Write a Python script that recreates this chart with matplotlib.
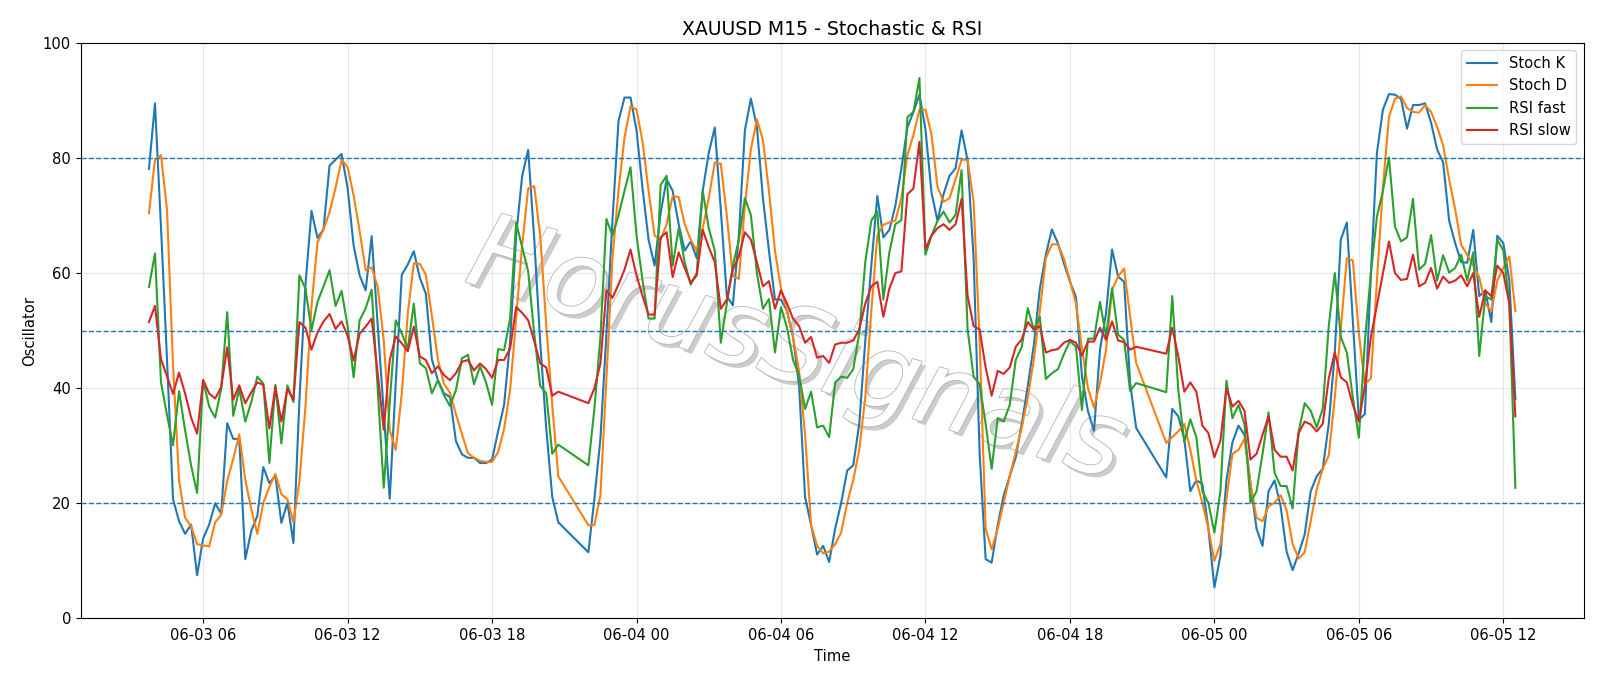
"""
plot.py - XAUUSD M15 stochastic & RSI oscillator panel.
"""

import matplotlib
matplotlib.use("Agg")
import matplotlib.dates as mdates
import matplotlib.patheffects as pe
import matplotlib.pyplot as plt
import pandas as pd

# ----------------------------------------------------------------------------
# Data (15-min bars, daily session break 21:00-21:45 has no bars)
# ----------------------------------------------------------------------------

START = "2025-06-03 03:45"
END = "2025-06-05 12:30"
BREAK_HOUR = 21

stoch_k = [
    78.1, 89.5, 68, 45, 20.7, 16.9, 14.7, 16.3, 7.5,
    # 06-03 06:00
    13.9, 16.3, 20.0, 18.2, 33.9, 31.2, 31.2, 10.3, 15.2, 17.8, 26.3, 23.5,
    24.8, 16.6, 20.1, 13.1, 38, 58, 70.8, 66.1, 67.6, 78.7, 79.7, 80.7,
    # 06-03 12:00
    74.8, 64.8, 59.6, 57, 66.4, 51, 36, 20.8, 41, 59.7, 61.5, 63.8,
    59.2, 56.4, 45, 41.4, 39.1, 38.5, 30.8, 28.5, 27.9, 27.9, 27, 27,
    # 06-03 18:00
    27.6, 32.5, 37.1, 48.2, 66.5, 76.9, 81.4, 66, 48, 33, 21.1, 16.7,
    11.5, 20.8, 31.2, 49.5, 69.1, 86.4, 90.5, 90.5,
    # 06-04 00:00
    84.8, 74.7, 65.8, 61.3, 70.4, 76.3, 74.3, 68.5, 63.9, 65.5, 62.6, 74.3,
    80.9, 85.3, 71, 56, 54.4, 66.5, 84.8, 90.3, 85.4, 73, 63.9, 55.4,
    # 06-04 06:00
    55.4, 53.4, 48.9, 40.4, 21.1, 16.2, 11.1, 12.6, 9.8, 15.6, 20.1, 25.7,
    26.6, 33.8, 48.2, 61.3, 73.4, 66.2, 67.5, 71.7, 78.2, 85.3, 88, 91,
    # 06-04 12:00
    85, 74, 69.1, 73.7, 76.9, 78.2, 84.8, 79.6, 62.6, 28.6, 10.3, 9.7,
    16.2, 21.4, 24.7, 28, 33.8, 40.4, 47.5, 57.3, 63.2, 67.6, 65.2, 61.7,
    # 06-04 18:00
    58.5, 55.9, 42, 36, 32.6, 46.7, 53, 64.1, 59.4, 58.5, 40.9, 33.1,
    24.5, 36.4, 35.1, 31.2, 22.1, 24, 23.4, 15.6,
    # 06-05 00:00
    5.4, 10.9, 24, 30.6, 33.5, 31.9, 23.4, 15.6, 12.6, 22.1, 24, 19.5,
    11.6, 8.4, 11.3, 14.6, 22.1, 24.7, 26, 33.8, 46.2, 65.8, 68.8, 51.5,
    # 06-05 06:00
    34.5, 35.5, 60, 80.9, 88.4, 91.1, 91, 90.3, 85.1, 89.2, 89.2, 89.5,
    86.1, 81.5, 79.2, 69.1, 65.2, 61.9, 61.8, 67.5, 56, 57, 51.5, 66.5,
    # 06-05 12:00
    65.2, 58.7, 38.1,
]

stoch_d = [
    70.4, 79.7, 80.5, 71, 44, 24, 17.5, 16, 12.9,
    12.7, 12.5, 16.7, 18, 23.9, 27.7, 32, 24.1, 19, 14.7, 20.1, 22.8,
    25.1, 21.6, 20.7, 16.7, 23.9, 36.8, 54.3, 65.3, 67.6, 70.6, 74.8, 79.7,
    78.4, 73.5, 67.3, 60.5, 61, 57.6, 48.4, 32.7, 29.3, 39.1, 53, 61.7,
    61.6, 59.7, 52.6, 45, 40.8, 39.2, 35.5, 32, 28.7, 27.9, 27.4, 27.2,
    27.2, 28.9, 32.9, 39.7, 52.1, 64.9, 74.7, 75.1, 66.5, 51, 37, 24.7,
    16.2, 16.2, 21.4, 41.7, 62.6, 74.3, 83.5, 89,
    88.4, 82.8, 74.3, 66.5, 65.8, 68.5, 73.4, 73.2, 68.5, 65.8, 63.9, 67.8,
    73, 79.2, 79, 70, 59.5, 59, 71.7, 81.5, 86.7, 83.1, 74.3, 63.9,
    57.3, 53.4, 48.9, 43, 31.9, 16.2, 12.6, 11.3, 11.6, 12.9, 14.9, 20.1,
    24, 29.3, 38.4, 53.4, 66.5, 68.4, 68.8, 69.1, 73, 80.5, 84, 88.4,
    88.4, 84.1, 75, 72.4, 73, 76.3, 79.7, 79.7, 72.4, 48.2, 15.6, 12,
    15.6, 20.1, 24.7, 28.9, 33.2, 38.4, 44.9, 53.4, 62.6, 65, 65, 62.5,
    58.7, 54.7, 46.9, 40, 36.6, 40.9, 46.7, 57.1, 59.4, 60.8, 52.5, 44.4,
    30.5, 31.5, 32.5, 33.8, 29.3, 24, 20.1, 15.6,
    10, 12.9, 20.8, 28.6, 29.3, 31.2, 23.4, 17.5, 16.9, 19.5, 20.1, 21.4,
    18.8, 12.9, 10.4, 11.5, 16.9, 22.4, 26, 28.3, 38.4, 50.2, 62.6, 62.2,
    49.5, 40.7, 41.7, 58.7, 75, 87.1, 90.3, 90.7, 88.7, 88, 87.9, 89.2,
    88, 85.4, 82.2, 76.3, 71.1, 64.9, 63.2, 61.3, 59.3, 54.7, 53.4, 58.7,
    60.9, 62.9, 53.4,
]

rsi_fast = [
    57.6, 63.4, 41, 35.3, 30.1, 39.5, 32.7, 26.6, 21.8,
    41.4, 36.8, 34.9, 39.9, 53.2, 35.2, 39.9, 34.2, 37.6, 42, 40.8, 27,
    40.6, 30.4, 40.5, 37.6, 59.6, 57.3, 50.1, 55, 57.7, 60.5, 54.3, 56.9,
    50.8, 41.9, 51.8, 53.9, 57.1, 40, 22.7, 37.5, 51.8, 49.5, 46.9, 54.7,
    44.3, 43.5, 39.1, 41.4, 38.8, 36.9, 39.7, 45.2, 45.8, 40.7, 43.8, 41,
    37.1, 46.8, 46.6, 52.1, 68.8, 64.5, 60.3, 49.5, 40.4, 39.1, 28.6, 30.2,
    26.6, 36.4, 48.9, 69.4, 66.5, 70, 74.3, 78.4,
    66.5, 58.7, 52.1, 52.1, 75.3, 76.9, 61.3, 67.8, 61.9, 58, 60, 74.3,
    67.8, 63.9, 47.9, 54.7, 61.3, 65.8, 73, 70.1, 60, 53.8, 55.5, 46.2,
    54.1, 50.5, 44.9, 42.3, 36.4, 39.4, 33.2, 33.5, 31.5, 41, 42, 41.8,
    43.3, 49.5, 61.9, 69.1, 70.7, 55.4, 63.6, 68.5, 69.2, 87.1, 88, 93.9,
    63.2, 66.5, 69.1, 70.7, 68.8, 70.1, 77.9, 50.2, 42, 40.7, 33.8, 26,
    34.8, 34.2, 37.1, 44.9, 47.2, 53.9, 50.2, 52.4, 41.6, 42.6, 43.3, 45.9,
    48.2, 47.2, 36.2, 48.6, 48.6, 55, 49, 57.4, 49.3, 48.4, 39.5, 40.9,
    39.3, 56, 39.7, 30.6, 34.6, 31.5, 22.1, 20.1,
    14.9, 22.1, 41.3, 34.8, 37.1, 33.8, 20.1, 22.1, 28.6, 35.8, 25.3, 23,
    23, 19.1, 32.5, 37.4, 36.1, 33.2, 36.4, 50.8, 60, 48.9, 46.2, 38.4,
    31.4, 48.2, 60, 69.8, 74.3, 80.1, 68.1, 65.5, 66.2, 72.9, 60.6, 61.6,
    66.6, 58.7, 63.1, 60.1, 60.9, 63.2, 58.7, 63.6, 45.6, 56, 55.4, 65.8,
    63.9, 54.7, 22.7,
]

rsi_slow = [
    51.5, 54.3, 45, 42.1, 39, 42.7, 39.1, 34.9, 32.1,
    41.4, 39.1, 38.2, 40.2, 47.1, 38, 40.5, 37.4, 39.3, 41, 40.6, 33,
    40.2, 34.2, 39.9, 38, 51.5, 50.5, 46.7, 49.7, 51.6, 52.9, 50.3, 51.6,
    49.1, 44.8, 49.5, 50.7, 52.1, 42.6, 32.8, 44.9, 49, 47.8, 46.4, 50.7,
    45.5, 44.9, 42.6, 43.8, 42.3, 41.4, 42.6, 44.6, 44.9, 43.1, 44.3, 43.3,
    41.8, 44.9, 44.9, 46.9, 54.1, 53.1, 51.8, 48.2, 44.3, 43.6, 38.7, 39.4,
    37.4, 40, 44.3, 57, 55.7, 58, 60.6, 64.1,
    59.6, 56, 52.8, 52.8, 66.2, 67.1, 59.3, 63.6, 60.9, 58.3, 59.6, 67.5,
    64.5, 61.9, 53.8, 55.4, 60.6, 62.9, 67.1, 65.8, 61.9, 57.7, 58.6, 53.8,
    57, 54.7, 52.1, 50.8, 47.9, 48.9, 45.3, 45.6, 44.4, 47.6, 47.9, 47.9,
    48.3, 50.2, 54.7, 57.7, 58.5, 52.4, 57.3, 60, 60.3, 73.7, 74.7, 82.8,
    64.2, 66.5, 67.8, 68.5, 67.5, 68.5, 72.9, 56, 50.8, 50.2, 43.6, 38.7,
    43, 42.5, 43.6, 47.2, 48.5, 51.5, 50.2, 50.8, 46.2, 46.6, 46.8, 47.9,
    48.4, 47.9, 45.7, 48.1, 48.1, 50.5, 48.4, 51.6, 48.3, 48, 46.7, 47.2,
    46, 50.5, 45.6, 39.4, 41, 39.4, 33.5, 32.2,
    28, 30.9, 40, 36.8, 37.8, 36.1, 27.6, 28.6, 31.9, 35.1, 29.3, 28.1,
    28.1, 25.7, 32.2, 34.2, 33.7, 32.5, 33.8, 41.7, 46.2, 41.9, 41, 37.1,
    34.2, 40.4, 48.9, 54.4, 60, 65.5, 60, 58.8, 59, 63.2, 57.7, 58.3,
    60.9, 57.3, 59.4, 58.3, 58.7, 59.6, 57.7, 60, 52.4, 57, 56, 61.3,
    60, 54.7, 35.1,
]

series_names = ["Stoch K", "Stoch D", "RSI fast", "RSI slow"]
levels = [80, 50, 20]


def main():
    plt.rcParams["font.size"] = 10.6

    times = pd.date_range(START, END, freq="15min")
    times = times[times.hour != BREAK_HOUR]
    df = pd.DataFrame(
        dict(zip(series_names, [stoch_k, stoch_d, rsi_fast, rsi_slow])),
        index=times,
    )

    fig, ax = plt.subplots(figsize=(16, 6.86), dpi=100)
    fig.subplots_adjust(left=0.0504, right=0.9898, top=0.9375, bottom=0.0985)

    for name in series_names:
        ax.plot(df.index, df[name], lw=1.5, label=name, zorder=3)

    for lvl in levels:
        ax.axhline(lvl, ls="--", lw=1.0, color="C0", zorder=3)

    ax.set_ylim(0, 100)
    ax.grid(alpha=0.3)
    ax.xaxis.set_major_locator(mdates.HourLocator(byhour=[0, 6, 12, 18]))
    ax.xaxis.set_major_formatter(mdates.DateFormatter("%m-%d %H"))
    ax.set_title("XAUUSD M15 - Stochastic & RSI", fontsize=13.6)
    ax.set_xlabel("Time")
    ax.set_ylabel("Oscillator")
    ax.legend(loc="upper right")

    # watermark, under the lines
    ax.text(0.476, 0.462, "HorusSignals", transform=ax.transAxes,
            fontsize=75, color="white", style="italic", rotation=-17,
            ha="center", va="center", zorder=2,
            path_effects=[pe.withSimplePatchShadow(offset=(3, -3), shadow_rgbFace="#aaaaaa", alpha=0.6),
                          pe.withStroke(linewidth=1.2, foreground="#b5b5b5")])

    fig.savefig("out.png", dpi=100)
    plt.close(fig)


if __name__ == "__main__":
    main()
